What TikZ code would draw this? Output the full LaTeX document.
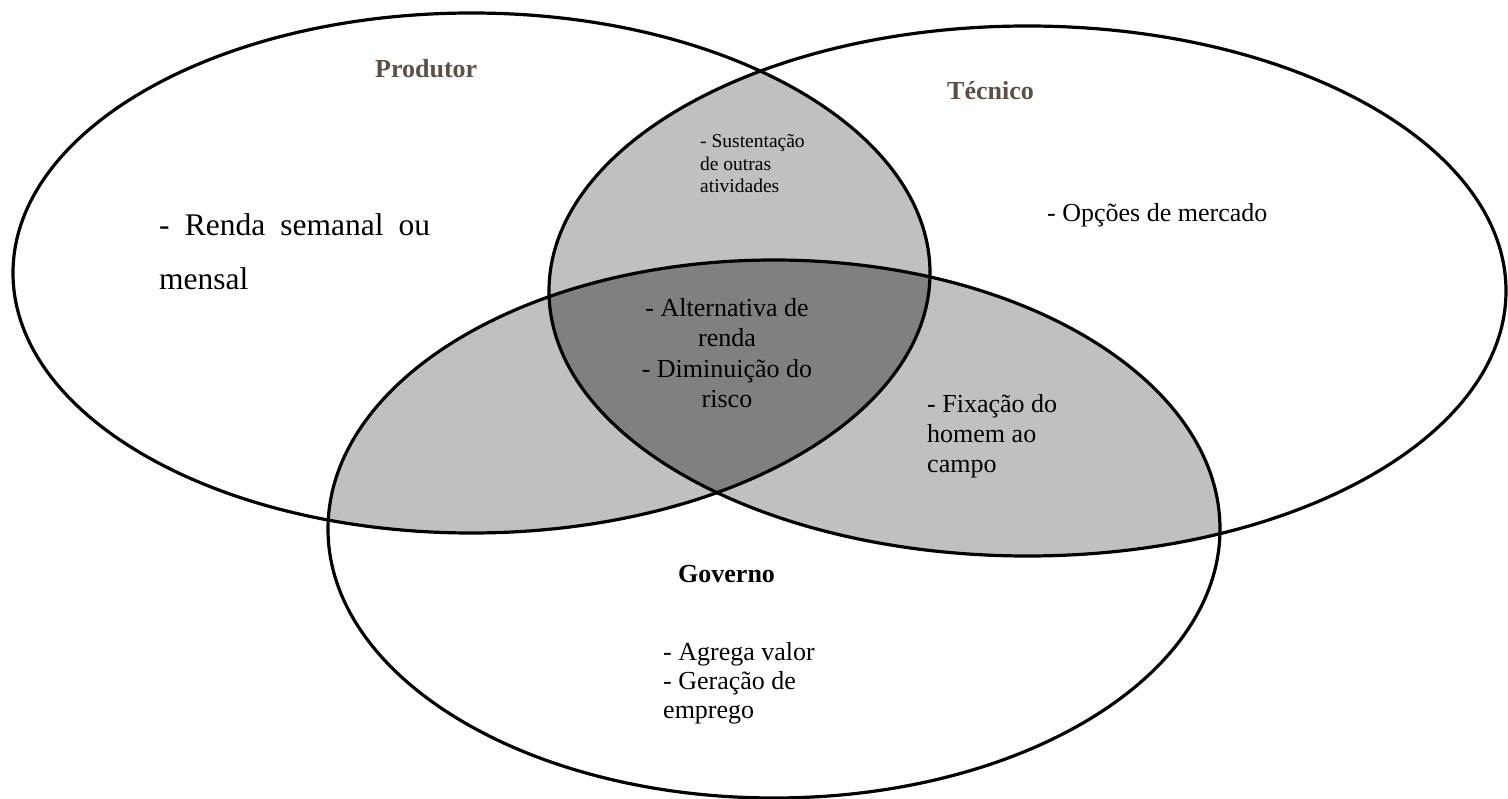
\documentclass[tikz,border=0pt]{standalone}
\usepackage{fontspec}
\setmainfont{Liberation Serif}
\definecolor{labelbrown}{RGB}{90,80,72}
\definecolor{lensgray}{RGB}{192,192,192}
\definecolor{coregray}{RGB}{128,128,128}
\begin{document}
\begin{tikzpicture}[x=1pt,y=-1pt,
  ring/.style={draw=black,line width=3.2pt},
  title/.style={font=\fontsize{26}{30}\selectfont\bfseries,inner sep=0pt,anchor=base west},
  body/.style={font=\fontsize{26}{30}\selectfont,inner sep=0pt,align=left,anchor=base west},
]
\useasboundingbox (0,0) rectangle (1508,799);

% pairwise overlaps
\begin{scope}
  \clip (471.5,273) ellipse [x radius=458.5pt,y radius=260pt];
  \fill[lensgray] (1027.5,291) ellipse [x radius=478.5pt,y radius=265pt];
  \fill[lensgray] (774,529) ellipse [x radius=446pt,y radius=269pt];
\end{scope}
\begin{scope}
  \clip (1027.5,291) ellipse [x radius=478.5pt,y radius=265pt];
  \fill[lensgray] (774,529) ellipse [x radius=446pt,y radius=269pt];
\end{scope}
% common core of all three
\begin{scope}
  \clip (471.5,273) ellipse [x radius=458.5pt,y radius=260pt];
  \clip (1027.5,291) ellipse [x radius=478.5pt,y radius=265pt];
  \fill[coregray] (774,529) ellipse [x radius=446pt,y radius=269pt];
\end{scope}

% outlines: Produtor, Tecnico, Governo
\draw[ring] (471.5,273) ellipse [x radius=458.5pt,y radius=260pt];
\draw[ring] (1027.5,291) ellipse [x radius=478.5pt,y radius=265pt];
\draw[ring] (774,529) ellipse [x radius=446pt,y radius=269pt];

% titles
\node[title,text=labelbrown] (produtor) at (375,78) {Produtor};
\node[title,text=labelbrown] (tecnico) at (947,100) {Técnico};
\node[title] (governo) at (678,582) {Governo};

% contents (multi-line nodes sit on the baseline of their last line)
\node[font=\fontsize{31.5}{54}\selectfont,inner sep=0pt,anchor=base west,
      text width=271pt,align=left] (renda) at (159,236)
  {-\hfill Renda\hfill semanal\hfill ou\\mensal};
\node[body] (opcoes) at (1047,222) {- Opções de mercado};
\node[font=\fontsize{19.5}{22.5}\selectfont,inner sep=0pt,align=left,anchor=base west]
  (sustentacao) at (700,193) {- Sustentação\\de outras\\atividades};
\node[body,font=\fontsize{26}{30.5}\selectfont,align=center,anchor=base] (alternativa) at (727,408)
  {- Alternativa de\\renda\\- Diminuição do\\risco};
\node[body,font=\fontsize{26}{29.5}\selectfont] (fixacao) at (927,472) {- Fixação do\\homem ao\\campo};
\node[body,font=\fontsize{26}{29}\selectfont] (agrega) at (663,718) {- Agrega valor\\- Geração de\\emprego};
\end{tikzpicture}
\end{document}
